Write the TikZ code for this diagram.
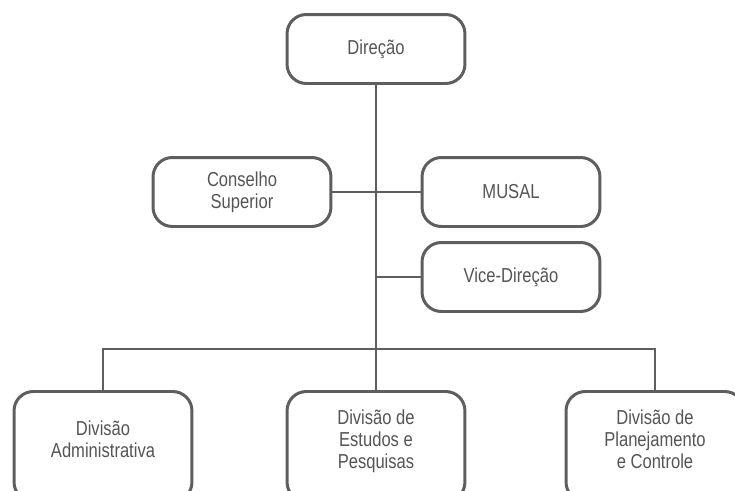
\documentclass[tikz,border=0pt]{standalone}
\usepackage{fontspec}
\setmainfont{Liberation Sans}[FakeStretch=0.82]
\usepackage{tikz}
\definecolor{boxGray}{HTML}{5E5E5E}
\definecolor{txtGray}{HTML}{555555}

\tikzset{
  unit/.style={draw=boxGray, line width=1.7pt, rounded corners=11pt, fill=white,
    minimum width=3.56cm, minimum height=1.38cm, align=center, text=txtGray,
    font=\fontsize{11.5}{12.6}\selectfont},
  division/.style={unit, minimum height=2.2cm, anchor=north, text depth=0.3cm},
  link/.style={draw=boxGray, line width=1.1pt}
}

\begin{document}
\begin{tikzpicture}[x=0.02cm, y=-0.02cm]
\useasboundingbox (0,0) rectangle (735,491);
\clip (0,0) rectangle (735,491);


\coordinate (bus) at (376,349);


\draw[link] (376,49) -- (bus);


\node[unit] (dir) at (376,49) {Direção};
\node[unit] (cons) at (242,192) {Conselho\\Superior};
\node[unit] (musal) at (511,192) {MUSAL};
\node[unit] (vice) at (511,277) {Vice-Direção};


\node[division] (adm) at (103,390) {Divisão\\Administrativa};
\node[division] (est) at (376,390) {Divisão de\\Estudos e\\Pesquisas};
\node[division] (plan) at (655,390) {Divisão de\\Planejamento\\e Controle};


\draw[link] (cons.east) -- (musal.west);
\draw[link] (vice.west) -- (vice.west -| bus);
\draw[link] (adm.north) -- (adm.north |- bus) -- (plan.north |- bus) -- (plan.north);
\draw[link] (bus) -- (est.north);
\end{tikzpicture}
\end{document}
